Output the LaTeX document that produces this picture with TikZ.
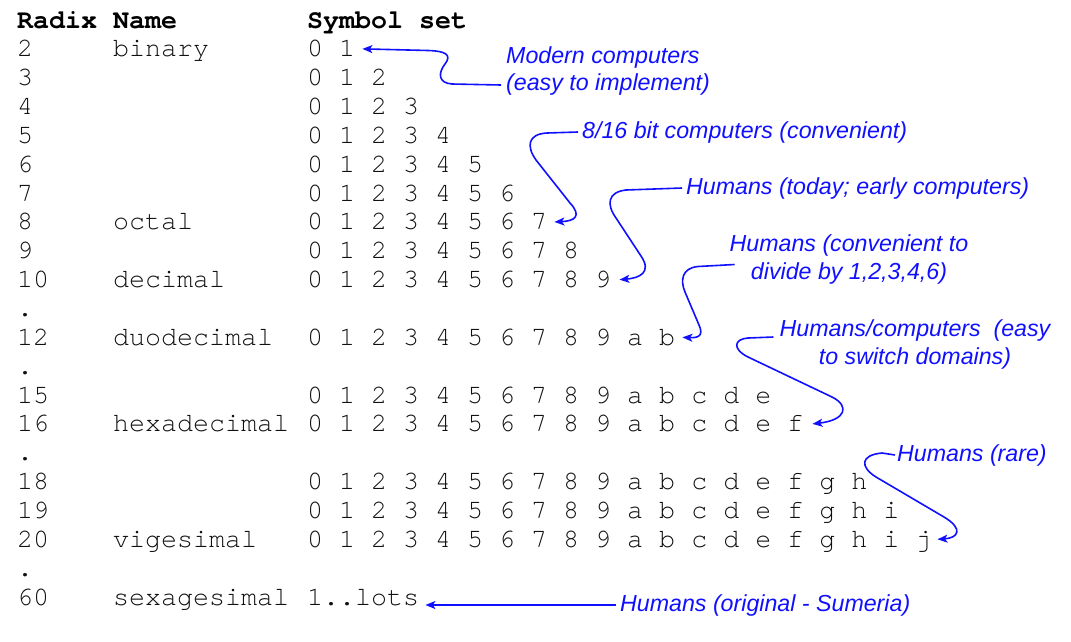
\documentclass[tikz,border=0pt]{standalone}
\usepackage{fontspec}
\setmainfont{Liberation Sans}
\newfontfamily\cour[BoldFont=texgyrecursor-bold.otf]{texgyrecursor-regular.otf}
\newfontfamily\annf{Liberation Sans}
\usetikzlibrary{arrows.meta}
\definecolor{txt}{HTML}{101010}
\definecolor{ann}{HTML}{1010FF}
\begin{document}
\begin{tikzpicture}[x=1pt,y=-1pt,
  mono/.style={anchor=base west, inner sep=0pt, text=txt, font=\cour\fontsize{26.67}{29}\selectfont},
  hdr/.style={mono, text=black, font=\cour\bfseries\fontsize{26.67}{29}\selectfont},
  sym/.style={mono, text height=17pt, text depth=1pt},
  note/.style={inner sep=0pt, text=ann, font=\annf\itshape\fontsize{23.2}{27.5}\selectfont},
  arr/.style={draw=ann, line width=1.6pt, line join=round, -{Stealth[length=10pt,width=8pt,inset=2.5pt]}}]
\useasboundingbox (0,0) rectangle (1071,641);
% header
\node[hdr] (r0) at (17,28) {Radix};
\node[hdr] (n0) at (113,28) {Name};
\node[hdr] (s0) at (307,28) {Symbol set};
% rows
\node[mono] (r1) at (17,56.85) {2};
\node[mono] (n1) at (113,56.85) {binary};
\node[sym] (s1) at (307,56.85) {0 1};
\node[mono] (r2) at (17,85.7) {3};
\node[sym] (s2) at (307,85.7) {0 1 2};
\node[mono] (r3) at (17,114.55) {4};
\node[sym] (s3) at (307,114.55) {0 1 2 3};
\node[mono] (r4) at (17,143.4) {5};
\node[sym] (s4) at (307,143.4) {0 1 2 3 4};
\node[mono] (r5) at (17,172.25) {6};
\node[sym] (s5) at (307,172.25) {0 1 2 3 4 5};
\node[mono] (r6) at (17,201.1) {7};
\node[sym] (s6) at (307,201.1) {0 1 2 3 4 5 6};
\node[mono] (r7) at (17,229.95) {8};
\node[mono] (n7) at (113,229.95) {octal};
\node[sym] (s7) at (307,229.95) {0 1 2 3 4 5 6 7};
\node[mono] (r8) at (17,258.8) {9};
\node[sym] (s8) at (307,258.8) {0 1 2 3 4 5 6 7 8};
\node[mono] (r9) at (17,287.65) {10};
\node[mono] (n9) at (113,287.65) {decimal};
\node[sym] (s9) at (307,287.65) {0 1 2 3 4 5 6 7 8 9};
\node[mono] (r10) at (17,316.5) {.};
\node[mono] (r11) at (17,345.35) {12};
\node[mono] (n11) at (113,345.35) {duodecimal};
\node[sym] (s11) at (307,345.35) {0 1 2 3 4 5 6 7 8 9 a b};
\node[mono] (r12) at (17,374.2) {.};
\node[mono] (r13) at (17,403.05) {15};
\node[sym] (s13) at (307,403.05) {0 1 2 3 4 5 6 7 8 9 a b c d e};
\node[mono] (r14) at (17,431.9) {16};
\node[mono] (n14) at (113,431.9) {hexadecimal};
\node[sym] (s14) at (307,431.9) {0 1 2 3 4 5 6 7 8 9 a b c d e f};
\node[mono] (r15) at (17,460.75) {.};
\node[mono] (r16) at (17,489.6) {18};
\node[sym] (s16) at (307,489.6) {0 1 2 3 4 5 6 7 8 9 a b c d e f g h};
\node[mono] (r17) at (17,518.45) {19};
\node[sym] (s17) at (307,518.45) {0 1 2 3 4 5 6 7 8 9 a b c d e f g h i};
\node[mono] (r18) at (17,547.3) {20};
\node[mono] (n18) at (113,547.3) {vigesimal};
\node[sym] (s18) at (307,547.3) {0 1 2 3 4 5 6 7 8 9 a b c d e f g h i j};
\node[mono] (r19) at (17,576.15) {.};
\node[mono] (r20) at (17,605) {60};
\node[mono] (n20) at (113,605) {sexagesimal};
\node[sym] (s20) at (307,605) {1..lots};
% annotations
\node[note, anchor=west, align=left] (a1) at (506,71) {Modern computers\\(easy to implement)};
\node[note, anchor=west] (a2) at (582,132) {8/16 bit computers (convenient)};
\node[note, anchor=west] (a3) at (686,188) {Humans (today; early computers)};
\node[note, align=center] (a4) at (849,259.5) {Humans (convenient to\\divide by 1,2,3,4,6)};
\node[note, align=center] (a5) at (915,344.5) {Humans/computers\ \ (easy\\to switch domains)};
\node[note, anchor=west] (a6) at (897,455) {Humans (rare)};
\node[note, anchor=west] (a7) at (620,605) {Humans (original - Sumeria)};
% arrows
\draw[arr] ([shift={(-5,14)}]a1.west) -- (452,84) .. controls (438,83) and (438,73) .. (445,64) .. controls (452,55) and (446,51) .. (428,50.5) -- ([xshift=7pt]s1.east);
\draw[arr] ([xshift=-4pt]a2.west) -- (547,133) .. controls (528,134) and (526,146) .. (536,160) -- (570,203) .. controls (582,216) and (575,221) .. ([xshift=7pt]s7.east);
\draw[arr] ([xshift=-4pt]a3.west) -- (626,190) .. controls (608,192) and (606,204) .. (616,218) -- (641,256) .. controls (652,272) and (640,278) .. ([xshift=8pt]s9.east);
\draw[arr] ([shift={(5,5)}]a4.west) -- (698,266.5) .. controls (682,268) and (680,280) .. (685,292) -- (699,325) .. controls (704,336) and (698,338) .. ([xshift=7pt]s11.east);
\draw[arr] ([shift={(-6,-7.5)}]a5.west) -- (748,338) .. controls (734,339) and (732,349) .. (748,357) -- (832,397) .. controls (850,406) and (846,420) .. ([xshift=9pt]s14.east);
\draw[arr] ([xshift=-2pt]a6.west) -- (882,453) .. controls (860,455) and (860,467) .. (876,477) -- (944,517) .. controls (964,529) and (958,538) .. ([xshift=6pt]s18.east);
\draw[arr] ([xshift=-4pt]a7.west) -- ([xshift=6pt]a7.west -| s20.east);
\end{tikzpicture}
\end{document}
